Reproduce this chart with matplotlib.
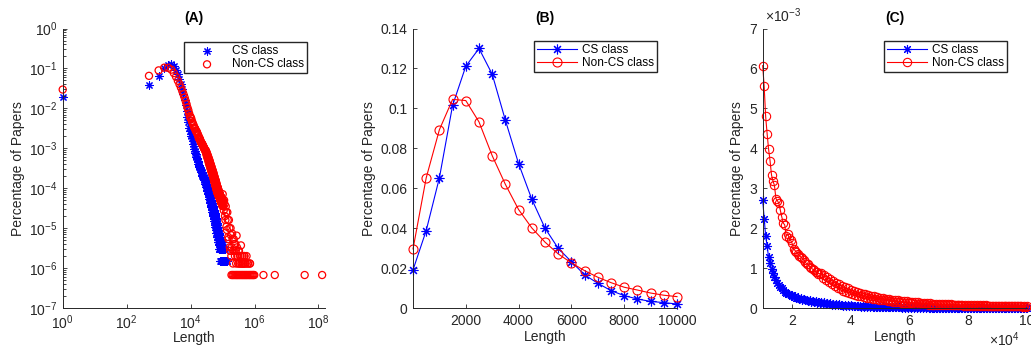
import numpy as np
import matplotlib
matplotlib.use('Agg')
import matplotlib.pyplot as plt
from matplotlib.ticker import FuncFormatter, LogLocator, NullLocator, NullFormatter

plt.rcParams['font.family'] = ['Liberation Sans', 'DejaVu Sans']
plt.rcParams['mathtext.fontset'] = 'custom'
plt.rcParams['mathtext.rm'] = 'Liberation Sans'
plt.rcParams['mathtext.it'] = 'Liberation Sans:italic'
plt.rcParams['mathtext.default'] = 'regular'
plt.rcParams['axes.unicode_minus'] = False

# ---- (B) bins 1..10000, step 500
len_b = [1, 500, 1000, 1500, 2000, 2500, 3000, 3500, 4000, 4500, 5000,
         5500, 6000, 6500, 7000, 7500, 8000, 8500, 9000, 9500, 10000]
cs_b = [0.0191, 0.0388, 0.0652, 0.1015, 0.1211, 0.1300, 0.1171, 0.0940, 0.0723, 0.0545, 0.0400,
        0.0299, 0.0232, 0.0166, 0.0124, 0.0087, 0.0062, 0.0045, 0.0033, 0.0027, 0.0020]
noncs_b = [0.0296, 0.0652, 0.0893, 0.1045, 0.1039, 0.0932, 0.0763, 0.0619, 0.0493, 0.0401, 0.0330,
           0.0271, 0.0226, 0.0187, 0.0154, 0.0127, 0.0104, 0.0090, 0.0075, 0.0064, 0.0057]

# ---- (C) bins 10000..100000, step 500, values in units of 1e-3
len_c = list(range(10000, 100001, 500))
cs_c = [2.70, 2.24, 1.80, 1.56, 1.27, 1.12, 0.98, 0.87, 0.77, 0.70,
        0.62, 0.57, 0.53, 0.49, 0.45, 0.41, 0.38, 0.36, 0.34, 0.33,
        0.31, 0.28, 0.29, 0.25, 0.26, 0.22, 0.24, 0.20, 0.22, 0.19,
        0.21, 0.17, 0.19, 0.16, 0.18, 0.14, 0.17, 0.13, 0.16, 0.12,
        0.15, 0.11, 0.14, 0.10, 0.13, 0.092, 0.12, 0.085, 0.11, 0.078,
        0.10, 0.072, 0.092, 0.066, 0.085, 0.060, 0.078, 0.055, 0.072, 0.050,
        0.066, 0.046, 0.061, 0.042, 0.056, 0.039, 0.052, 0.036, 0.048, 0.033,
        0.045, 0.030, 0.042, 0.028, 0.039, 0.026, 0.037, 0.024, 0.035, 0.022,
        0.034, 0.021, 0.032, 0.0197, 0.030, 0.018, 0.029, 0.0167, 0.027, 0.0152,
        0.026, 0.0152, 0.024, 0.0136, 0.023, 0.0121, 0.0212, 0.0121, 0.0197, 0.0106,
        0.019, 0.0106, 0.0182, 0.0091, 0.0167, 0.0091, 0.0152, 0.0076, 0.0152, 0.0076,
        0.0136, 0.0076, 0.0136, 0.0061, 0.0121, 0.0061, 0.0121, 0.0061, 0.0106, 0.0045,
        0.0106, 0.0045, 0.0106, 0.0061, 0.0091, 0.0045, 0.0091, 0.0045, 0.0076, 0.0045,
        0.0076, 0.003, 0.0091, 0.0045, 0.0076, 0.003, 0.0076, 0.0045, 0.0061, 0.003,
        0.0068, 0.003, 0.0061, 0.0045, 0.0061, 0.003, 0.0045, 0.0015, 0.0061, 0.003,
        0.0045, 0.003, 0.0061, 0.0015, 0.0045, 0.003, 0.0045, 0.0015, 0.0045, 0.003,
        0.0045, 0.0015, 0.0045, 0.0015, 0.003, 0.0015, 0.0045, 0.0015, 0.003, 0.0015,
        0.003, 0.0015, 0.003, 0.0015, 0.003, 0.0015, 0.0015, 0.003, 0.0015, 0.0015,
        0.003]
noncs_c = [6.07, 5.55, 4.80, 4.37, 3.98, 3.69, 3.33, 3.18, 3.07, 2.74,
           2.69, 2.62, 2.45, 2.28, 2.13, 2.08, 1.80, 1.86, 1.76, 1.70,
           1.62, 1.49, 1.44, 1.40, 1.36, 1.31, 1.28, 1.24, 1.20, 1.15,
           1.10, 1.09, 1.03, 1.01, 0.97, 0.96, 0.91, 0.90, 0.86, 0.86,
           0.88, 0.76, 0.82, 0.70, 0.77, 0.64, 0.72, 0.59, 0.67, 0.55,
           0.63, 0.51, 0.59, 0.47, 0.55, 0.43, 0.52, 0.40, 0.49, 0.38,
           0.46, 0.35, 0.43, 0.33, 0.40, 0.31, 0.38, 0.29, 0.36, 0.27,
           0.34, 0.26, 0.32, 0.24, 0.30, 0.23, 0.29, 0.22, 0.27, 0.21,
           0.26, 0.20, 0.25, 0.19, 0.235, 0.175, 0.22, 0.165, 0.21, 0.155,
           0.20, 0.15, 0.19, 0.14, 0.18, 0.135, 0.17, 0.125, 0.165, 0.12,
           0.16, 0.115, 0.15, 0.11, 0.145, 0.105, 0.14, 0.10, 0.13, 0.095,
           0.125, 0.09, 0.12, 0.087, 0.115, 0.083, 0.11, 0.08, 0.105, 0.077,
           0.105, 0.074, 0.10, 0.072, 0.097, 0.07, 0.093, 0.067, 0.09, 0.065,
           0.085, 0.068, 0.082, 0.066, 0.08, 0.064, 0.078, 0.062, 0.076, 0.06,
           0.075, 0.058, 0.072, 0.057, 0.07, 0.055, 0.068, 0.053, 0.066, 0.052,
           0.065, 0.05, 0.064, 0.049, 0.062, 0.048, 0.061, 0.047, 0.06, 0.046,
           0.057, 0.045, 0.056, 0.044, 0.055, 0.043, 0.054, 0.042, 0.052, 0.041,
           0.051, 0.040, 0.050, 0.039, 0.049, 0.038, 0.048, 0.037, 0.047, 0.036,
           0.045]

# ---- long tail beyond 1e5 (only in A)
cs_tail_len = [101000, 103000, 105000, 108000, 111000, 114000, 118000, 122000, 126000, 131000, 136000, 142000]
cs_tail_val = [3.0e-6, 1.5e-6, 4.5e-6, 1.5e-6, 3.0e-6, 1.5e-6, 1.5e-6, 3.0e-6, 1.5e-6, 1.5e-6, 1.5e-6, 1.5e-6]

noncs_tail_len = [101000, 103500, 106000, 109000, 112000, 115500, 119000, 122500, 126000, 129500,
                  133000, 137000, 141000, 145500, 150000, 154000, 158000, 163000, 168000, 173000,
                  178000, 183000, 188000, 194000, 200000, 205500, 211000, 217500, 224000, 230500,
                  237000, 244000, 251000, 258500, 266000, 275000, 282000, 290000, 299000, 307000,
                  316000, 325500, 335000, 345000, 355000, 365000, 376000, 387000, 398000, 410000,
                  422000, 435000, 447000, 460000, 473000, 487000, 501000, 531000, 562000, 596000,
                  631000, 708000, 724000]
noncs_tail_val = [7.1e-5, 5.0e-5, 3.5e-5, 2.8e-5, 5.0e-5, 4.0e-5, 2.0e-5, 1.6e-5, 3.5e-5, 2.5e-5,
                  1.1e-5, 9.0e-6, 2.5e-5, 1.6e-5, 6.0e-6, 5.3e-6, 1.6e-5, 1.0e-5, 3.3e-6, 2.7e-6,
                  1.0e-5, 6.7e-6, 2.0e-6, 3.3e-6, 7.3e-6, 5.3e-6, 1.3e-6, 2.7e-6, 5.3e-6, 4.0e-6,
                  2.7e-6, 2.0e-6, 4.0e-6, 2.7e-6, 1.3e-6, 6.5e-6, 3.3e-6, 2.0e-6, 2.0e-6, 1.3e-6,
                  2.7e-6, 2.7e-6, 1.3e-6, 1.3e-6, 2.0e-6, 2.0e-6, 3.7e-6, 1.3e-6, 1.3e-6, 2.0e-6,
                  2.0e-6, 1.3e-6, 1.3e-6, 1.3e-6, 2.0e-6, 2.0e-6, 1.3e-6, 1.3e-6, 2.0e-6, 1.3e-6,
                  1.3e-6, 1.3e-6, 1.3e-6]
# bins holding a single non-CS paper
noncs_single_len = [190000, 205000, 220000, 240000, 260000, 280000, 300000, 325000, 350000, 380000,
                    410000, 440000, 475000, 510000, 550000, 590000, 640000, 690000, 740000, 800000,
                    860000, 920000, 980000, 1900000, 4300000, 37000000, 130000000]
noncs_single_val = 6.7e-7

gray = '#262626'
blue = (0, 0, 1)
red = (1, 0, 0)
star = (8, 2, 0)

W, H = 1031, 349
fig = plt.figure(figsize=(W / 100, H / 100), dpi=100)

def box(x0, x1, y0=28.5, y1=308):
    return [x0 / W, 1 - y1 / H, (x1 - x0) / W, (y1 - y0) / H]

axA = fig.add_axes(box(62.7, 325))
axB = fig.add_axes(box(413, 677))
axC = fig.add_axes(box(762.7, 1027))

for ax in (axA, axB, axC):
    for s in ('top', 'right'):
        ax.spines[s].set_visible(False)
    for s in ('left', 'bottom'):
        ax.spines[s].set_color(gray)
        ax.spines[s].set_linewidth(0.7)
    ax.tick_params(which='both', direction='in', colors=gray, labelsize=10, width=0.6, pad=4)
    ax.tick_params(which='major', length=3)
    ax.tick_params(which='minor', length=1.8)
    ax.set_xlabel('Length', fontsize=10, color=gray)
    ax.set_ylabel('Percentage of Papers', fontsize=10, color=gray)

leg_kw = dict(loc='upper left', bbox_transform=fig.transFigure, borderaxespad=0, fontsize=8.5,
              fancybox=False, framealpha=1, edgecolor=gray, handlelength=3.4, handletextpad=0.4,
              labelspacing=0.15, borderpad=0.25)

# ---------- (A)
cs_c_arr = np.array(cs_c) * 1e-3
noncs_c_arr = np.array(noncs_c) * 1e-3
x_cs = np.concatenate([len_b, len_c, cs_tail_len])
y_cs = np.concatenate([cs_b, cs_c_arr, cs_tail_val])
x_non = np.concatenate([len_b, len_c, noncs_tail_len, noncs_single_len])
y_non = np.concatenate([noncs_b, noncs_c_arr, noncs_tail_val,
                        [noncs_single_val] * len(noncs_single_len)])

axA.scatter(x_cs, y_cs, s=28, marker=star, color=blue, linewidths=0.8, clip_on=False, label='CS class')
axA.scatter(x_non, y_non, s=26, marker='o', facecolors='none', edgecolors=red, linewidths=0.9,
            clip_on=False, label='Non-CS class')
axA.set_xscale('log')
axA.set_yscale('log')
axA.set_xlim(1, 1.6e8)
axA.set_ylim(1e-7, 1)
axA.set_xticks([1, 1e2, 1e4, 1e6, 1e8])
axA.xaxis.set_minor_locator(NullLocator())
axA.set_yticks([10.0 ** k for k in range(-7, 1)])
axA.yaxis.set_minor_locator(LogLocator(base=10, subs=range(2, 10), numticks=20))
axA.yaxis.set_minor_formatter(NullFormatter())
axA.set_title('(A)', fontsize=10, fontweight='bold', pad=5)
axA.legend(bbox_to_anchor=(184 / W, 1 - 41.7 / H), scatterpoints=1, **leg_kw)
axA.yaxis.set_label_coords(-0.144, 0.5)
axA.xaxis.set_label_coords(0.5, -0.083)

# ---------- (B)
axB.plot(len_b, cs_b, color=blue, lw=0.8, marker=star, ms=7, mew=0.8, clip_on=False, label='CS class')
axB.plot(len_b, noncs_b, color=red, lw=0.8, marker='o', ms=6.5, mfc='none', mew=0.8, clip_on=False,
         label='Non-CS class')
axB.set_xlim(0, 10000)
axB.set_ylim(0, 0.14)
axB.set_xticks([2000, 4000, 6000, 8000, 10000])
axB.set_yticks([0, 0.02, 0.04, 0.06, 0.08, 0.1, 0.12, 0.14])
axB.yaxis.set_major_formatter(FuncFormatter(lambda v, p: f'{v:g}'))
axB.set_title('(B)', fontsize=10, fontweight='bold', pad=5)
axB.legend(bbox_to_anchor=(534.3 / W, 1 - 40.7 / H), **leg_kw)
axB.yaxis.set_label_coords(-0.140, 0.5)
axB.xaxis.set_label_coords(0.5, -0.077)

# ---------- (C)
axC.plot(len_c, cs_c_arr, color=blue, lw=0.8, marker=star, ms=6.5, mew=0.8, clip_on=False, label='CS class')
axC.plot(len_c, noncs_c_arr, color=red, lw=0.8, marker='o', ms=6, mfc='none', mew=0.8, clip_on=False,
         label='Non-CS class')
axC.set_xlim(10000, 100000)
axC.set_ylim(0, 7e-3)
axC.set_xticks([20000, 40000, 60000, 80000, 100000])
axC.set_yticks([k * 1e-3 for k in range(8)])
axC.xaxis.set_major_formatter(FuncFormatter(lambda v, p: f'{v / 1e4:g}'))
axC.yaxis.set_major_formatter(FuncFormatter(lambda v, p: f'{v * 1e3:g}'))
axC.text(0.008, 1.012, '×10$^{-3}$', transform=axC.transAxes, ha='left', va='bottom',
         fontsize=10, color=gray)
axC.text(0.915, -0.112, '×10$^{4}$', transform=axC.transAxes, ha='center', va='center',
         fontsize=10, color=gray)
axC.set_title('(C)', fontsize=10, fontweight='bold', pad=5)
axC.legend(bbox_to_anchor=(884.3 / W, 1 - 40.7 / H), **leg_kw)
axC.yaxis.set_label_coords(-0.072, 0.5)
axC.xaxis.set_label_coords(0.5, -0.077)

fig.savefig('out.png', dpi=100)
